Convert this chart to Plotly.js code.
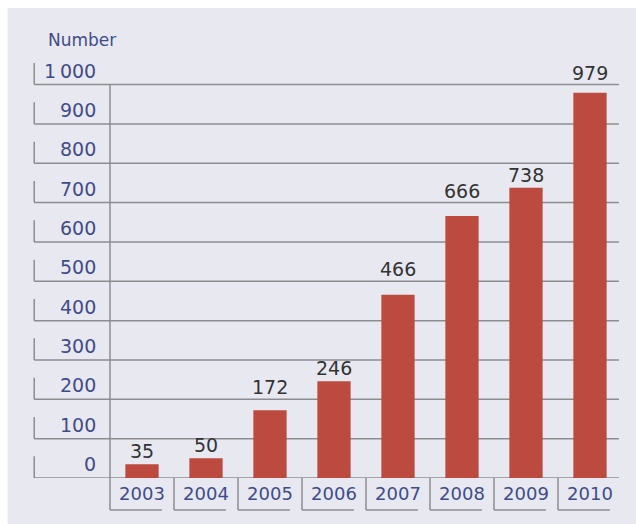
<!DOCTYPE html>
<html>
<head>
<meta charset="utf-8">
<script src="https://cdn.plot.ly/plotly-3.0.1.min.js"></script>
<style>
  body { margin: 0; background: #ffffff; }
  #plot { width: 636px; height: 524px; }
</style>
</head>
<body>
<div id="plot"></div>
<script>
var years = ["2003", "2004", "2005", "2006", "2007", "2008", "2009", "2010"];
var counts = [35, 50, 172, 246, 466, 666, 738, 979];
var yTicks = [0, 100, 200, 300, 400, 500, 600, 700, 800, 900, 1000];
var yTickText = ["0", "100", "200", "300", "400", "500", "600", "700", "800", "900", "1\u2009000"];

var lineCol = "#8c8c90";
var blue = "#3e4c8c";
var fontFam = "DejaVu Sans, sans-serif";

var data = [{
  type: "bar",
  x: years,
  y: counts,
  marker: {color: "#bd4a3e"},
  width: 0.52,
  hoverinfo: "x+y"
}];

var shapes = [];
var annotations = [];

// panel background
shapes.push({type: "rect", xref: "paper", yref: "paper", layer: "below",
  x0: -0.2, x1: 1.03, y0: -0.12, y1: 1.127,
  fillcolor: "#e8e8f1", line: {width: 0}});

// gridlines, left tick marks and y labels
yTicks.forEach(function (v, i) {
  shapes.push({type: "line", xref: "paper", yref: "y", layer: "below",
    x0: -0.148, x1: 0.994, y0: v, y1: v, line: {color: lineCol, width: 1.5}});
  shapes.push({type: "line", xref: "paper", yref: "y", layer: "below",
    x0: -0.148, x1: -0.148, y0: v, y1: v + 55, line: {color: lineCol, width: 1.5}});
  annotations.push({xref: "paper", yref: "y", x: -0.024, y: v, yshift: 1,
    xanchor: "right", yanchor: "bottom", showarrow: false, text: yTickText[i],
    font: {family: fontFam, size: 19, color: blue}});
});

// value labels above bars; lifted above a gridline when they would cross it
counts.forEach(function (c, i) {
  var y = c;
  yTicks.forEach(function (g) {
    if (g > c && g < c + 45) y = g;
  });
  annotations.push({xref: "x", yref: "y", x: i, y: y, yshift: y === c ? 0 : -1,
    xanchor: "center", yanchor: "bottom", showarrow: false, text: String(c),
    font: {family: fontFam, size: 19, color: "#333333"}});
});

// vertical axis line
shapes.push({type: "line", xref: "paper", yref: "y", layer: "below",
  x0: 0, x1: 0, y0: 0, y1: 1000, line: {color: lineCol, width: 1.5}});
shapes.push({type: "line", xref: "paper", yref: "paper", layer: "below",
  x0: 0, x1: 0, y0: 0, y1: -0.077, line: {color: lineCol, width: 1.5}});

// category label boxes
years.forEach(function (yr, i) {
  if (i > 0) {
    shapes.push({type: "line", xref: "x", yref: "paper", layer: "below",
      x0: i - 0.5, x1: i - 0.5, y0: 0, y1: -0.077, line: {color: lineCol, width: 1.5}});
  }
  shapes.push({type: "line", xref: "x", yref: "paper", layer: "below",
    x0: i - 0.5, x1: i + 0.31, y0: -0.077, y1: -0.077, line: {color: lineCol, width: 1.5}});
});

annotations.push({xref: "paper", yref: "paper", x: -0.125, y: 1.05,
  xanchor: "left", yanchor: "middle", showarrow: false, text: "Number",
  font: {family: fontFam, size: 17, color: blue}});

var layout = {
  width: 636,
  height: 524,
  margin: {l: 110, r: 14, t: 61, b: 46},
  paper_bgcolor: "#ffffff",
  plot_bgcolor: "rgba(0,0,0,0)",
  showlegend: false,
  bargap: 0.48,
  xaxis: {
    type: "category",
    range: [-0.5, 7.5],
    showgrid: false,
    zeroline: false,
    showline: false,
    ticks: "",
    ticklabelstandoff: 3,
    tickfont: {family: fontFam, size: 18, color: blue}
  },
  yaxis: {
    range: [0, 1060],
    showgrid: false,
    zeroline: false,
    showline: false,
    showticklabels: false,
    ticks: ""
  },
  shapes: shapes,
  annotations: annotations
};

Plotly.newPlot("plot", data, layout, {displayModeBar: false});
</script>
</body>
</html>
